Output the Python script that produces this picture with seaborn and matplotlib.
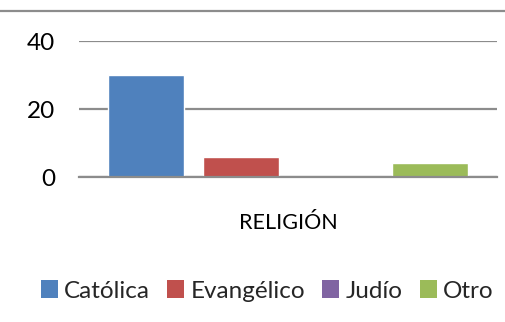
import matplotlib
matplotlib.use("Agg")
import matplotlib.pyplot as plt
import seaborn as sns
import pandas as pd
from matplotlib.lines import Line2D
from matplotlib.patches import Patch

categories = ["Católica", "Evangélico", "Judío", "Otro"]
values = [30, 6, 0, 4]
group = ["RELIGIÓN"] * 4
yticks = [0, 20, 40]
colors = ["#4F81BD", "#C0504D", "#8064A2", "#9BBB59"]

sns.set_theme(style="white")
plt.rcParams["font.family"] = ["Lato", "DejaVu Sans"]

df = pd.DataFrame({"grupo": group, "religion": categories, "valor": values})

fig = plt.figure(figsize=(5.06, 3.22), dpi=100)
ax = fig.add_axes([79/506, 1-177/322, (497-79)/506, (177-41)/322])
sns.barplot(data=df, x="grupo", y="valor", hue="religion", palette=colors,
            width=0.909, gap=0.2, ax=ax, legend=False, saturation=1)
ax.set_xlim(-0.5, 0.5)
ax.set_ylim(0, 40)
ax.set_yticks(yticks)
ax.set_yticklabels([str(t) for t in yticks], fontsize=17.5, color="black")
ax.tick_params(axis="y", length=0, pad=17)
ax.tick_params(axis="x", length=0, pad=26)
ax.set_xticks([0])
ax.set_xticklabels(["RELIGIÓN"], fontsize=15.5, color="black")
ax.set_xlabel("")
ax.set_ylabel("")
ax.yaxis.grid(True, color="#8C8C8C", linewidth=1.6)
ax.set_axisbelow(True)
for s in ["top", "right", "left"]:
    ax.spines[s].set_visible(False)
ax.spines["bottom"].set_color("#8C8C8C")
ax.spines["bottom"].set_linewidth(1.6)
ax.spines["bottom"].set_zorder(5)

handles = [Patch(facecolor=c, edgecolor="none") for c in colors]
fig.legend(handles, categories, loc="center", bbox_to_anchor=(0.528, 1-291/322),
           ncol=4, frameon=False, fontsize=17.5, handlelength=0.7, handleheight=0.7,
           handletextpad=0.25, columnspacing=0.72)

fig.add_artist(Line2D([0, 1], [1-11/322, 1-11/322], color="#8C8C8C", linewidth=1.6,
                      transform=fig.transFigure))

fig.savefig("out.png", dpi=100)
